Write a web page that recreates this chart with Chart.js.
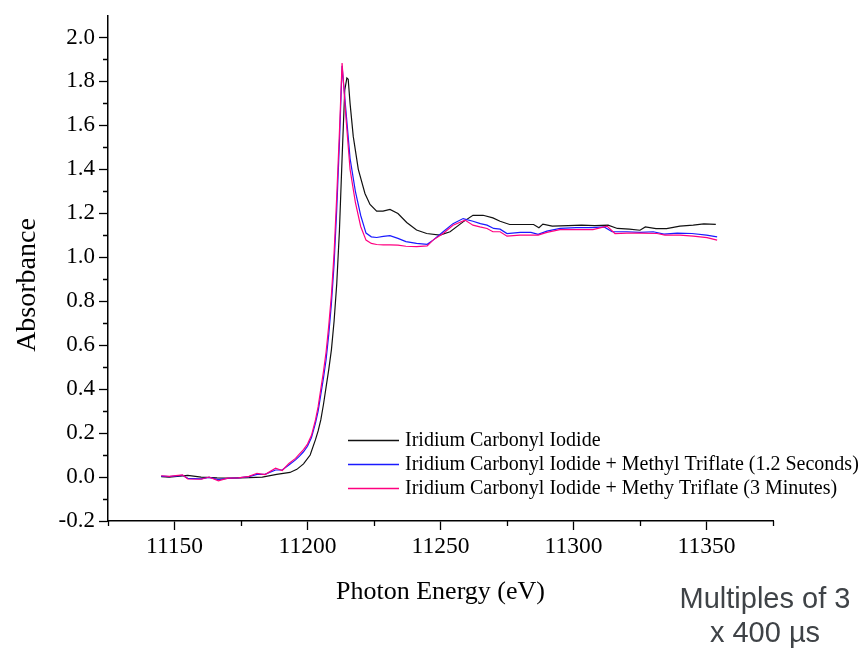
<!DOCTYPE html>
<html>
<head>
<meta charset="utf-8">
<script src="https://cdn.jsdelivr.net/npm/chart.js@4/dist/chart.umd.min.js"></script>
<style>
  html, body { margin: 0; padding: 0; background: #ffffff; }
  #wrap { width: 861px; height: 650px; position: relative; }
</style>
</head>
<body>
<div id="wrap"><canvas id="xas" width="861" height="650"></canvas></div>
<script>
// Ir L3-edge XANES spectra: photon energy (eV) vs absorbance

const seriesLabels = [
  'Iridium Carbonyl Iodide',
  'Iridium Carbonyl Iodide + Methyl Triflate (1.2 Seconds)',
  'Iridium Carbonyl Iodide + Methy Triflate (3 Minutes)'
];

// Iridium carbonyl iodide alone
const energyBase = [
  11145, 11148, 11152, 11155, 11160, 11166, 11171, 11178, 11183, 11188.4,
  11193.4, 11196, 11198.5, 11201, 11203, 11204, 11205, 11206, 11207, 11208,
  11209, 11210, 11211, 11212, 11213, 11214, 11214.8, 11215.3, 11216, 11217.2,
  11219.1, 11221.6, 11223.5, 11226, 11228.4, 11231, 11234, 11237.3, 11241, 11244.8,
  11249.8, 11253.6, 11258.5, 11262.2, 11266, 11269.7, 11272.4, 11276, 11281, 11285,
  11287, 11288.5, 11292, 11298, 11303, 11308, 11313, 11316.5, 11321, 11325,
  11327, 11331, 11335, 11340, 11345, 11349, 11353.5
];
const absBase = [
  0.002, 0.000, 0.004, 0.008, 0.000, -0.004, -0.005, -0.003, 0.000, 0.012,
  0.021, 0.035, 0.060, 0.100, 0.170, 0.210, 0.260, 0.330, 0.410, 0.490,
  0.580, 0.710, 0.880, 1.120, 1.450, 1.760, 1.816, 1.810, 1.700, 1.550,
  1.400, 1.290, 1.240, 1.210, 1.210, 1.218, 1.199, 1.158, 1.124, 1.108,
  1.101, 1.116, 1.161, 1.191, 1.191, 1.179, 1.164, 1.149, 1.149, 1.149,
  1.134, 1.151, 1.142, 1.144, 1.146, 1.144, 1.146, 1.131, 1.128, 1.123,
  1.138, 1.130, 1.130, 1.142, 1.146, 1.152, 1.150
];

// + methyl triflate, 1.2 s
const energyShort = [
  11145, 11148, 11153, 11155, 11160, 11163, 11166.5, 11170, 11174, 11178,
  11181, 11184, 11188, 11190.5, 11193, 11195.5, 11197, 11198.5, 11200, 11201.5,
  11203, 11204, 11205, 11206, 11207, 11208, 11209, 11210, 11211, 11212,
  11213, 11214.5, 11216, 11218, 11220, 11222, 11224, 11226, 11228.5, 11231,
  11234, 11237, 11241, 11245, 11247.2, 11251, 11254.7, 11258.5, 11262.2, 11265,
  11267.5, 11270, 11272.4, 11275, 11280, 11284, 11286.7, 11290, 11295, 11301,
  11307, 11311.5, 11314.5, 11320, 11325, 11330, 11334, 11339, 11344.5, 11350,
  11354
];
const absShort = [
  0.004, 0.002, 0.008, -0.006, -0.008, -0.002, -0.012, -0.006, -0.004, 0.002,
  0.012, 0.012, 0.032, 0.032, 0.055, 0.078, 0.095, 0.115, 0.140, 0.180,
  0.245, 0.300, 0.375, 0.450, 0.535, 0.650, 0.790, 0.970, 1.220, 1.520,
  1.870, 1.660, 1.450, 1.300, 1.190, 1.110, 1.093, 1.090, 1.095, 1.098,
  1.086, 1.071, 1.063, 1.059, 1.078, 1.116, 1.153, 1.176, 1.164, 1.153,
  1.146, 1.131, 1.128, 1.108, 1.113, 1.113, 1.104, 1.119, 1.131, 1.135,
  1.135, 1.138, 1.116, 1.116, 1.113, 1.116, 1.105, 1.110, 1.108, 1.101,
  1.093
];

// + methyl triflate, 3 min
const energyLong = [
  11145, 11148, 11153, 11155, 11160, 11163, 11166.5, 11170, 11174, 11178,
  11181, 11184, 11188, 11190.5, 11193, 11195.5, 11197, 11198.5, 11200, 11201.5,
  11203, 11204, 11205, 11206, 11207, 11208, 11209, 11210, 11211, 11212,
  11213, 11214.5, 11216, 11218, 11220, 11222, 11224, 11226, 11228.5, 11231,
  11234, 11237, 11241, 11245, 11247.2, 11251, 11254.7, 11259.2, 11262.2, 11264.8,
  11267.5, 11269.7, 11272.4, 11275, 11279.9, 11286.7, 11290, 11294.9, 11301.3, 11307.3,
  11312.6, 11315.6, 11320.1, 11325, 11331.4, 11334.4, 11340, 11345, 11350.2, 11354
];
const absLong = [
  0.006, 0.003, 0.010, -0.009, -0.010, 0.000, -0.017, -0.005, -0.004, 0.003,
  0.017, 0.011, 0.040, 0.030, 0.062, 0.085, 0.105, 0.125, 0.150, 0.190,
  0.260, 0.320, 0.400, 0.480, 0.570, 0.690, 0.830, 1.020, 1.280, 1.570,
  1.884, 1.628, 1.400, 1.250, 1.140, 1.078, 1.063, 1.058, 1.056, 1.056,
  1.055, 1.050, 1.048, 1.052, 1.078, 1.108, 1.146, 1.169, 1.146, 1.138,
  1.131, 1.116, 1.116, 1.096, 1.101, 1.101, 1.113, 1.126, 1.126, 1.126,
  1.142, 1.108, 1.110, 1.110, 1.108, 1.101, 1.101, 1.096, 1.089, 1.078
];

const seriesColors = ['#111111', '#1a1aff', '#ff0080'];

// axis ticks
const xMajorTicks = [11150, 11200, 11250, 11300, 11350];
const xMinorTicks = [11125, 11175, 11225, 11275, 11325, 11375];
const yMajorTicks = [-0.2, 0.0, 0.2, 0.4, 0.6, 0.8, 1.0, 1.2, 1.4, 1.6, 1.8, 2.0];
const yMinorTicks = [-0.1, 0.1, 0.3, 0.5, 0.7, 0.9, 1.1, 1.3, 1.5, 1.7, 1.9];

const toPoints = (xs, ys) => xs.map((x, i) => ({ x: x, y: ys[i] }));

const SERIF = '"Liberation Serif", "Times New Roman", serif';

// short minor tick marks on both axes
const minorTickPlugin = {
  id: 'minorTicks',
  afterDraw(chart) {
    const { ctx, chartArea, scales } = chart;
    ctx.save();
    ctx.strokeStyle = '#000';
    ctx.lineWidth = 1.3;
    ctx.beginPath();
    yMinorTicks.forEach(v => {
      const py = Math.round(scales.y.getPixelForValue(v)) + 0.5;
      ctx.moveTo(chartArea.left - 5, py);
      ctx.lineTo(chartArea.left, py);
    });
    xMinorTicks.forEach(v => {
      const px = Math.round(scales.x.getPixelForValue(v)) + 0.5;
      ctx.moveTo(px, chartArea.bottom);
      ctx.lineTo(px, chartArea.bottom + 5);
    });
    ctx.stroke();
    ctx.restore();
  }
};

// vertical axis title, a little below the axis midpoint
const yTitlePlugin = {
  id: 'yTitle',
  afterDraw(chart) {
    const { ctx } = chart;
    ctx.save();
    ctx.translate(28, 285);
    ctx.rotate(-Math.PI / 2);
    ctx.font = '28px ' + SERIF;
    ctx.fillStyle = '#000';
    ctx.textAlign = 'center';
    ctx.textBaseline = 'middle';
    ctx.fillText('Absorbance', 0, 0);
    ctx.restore();
  }
};

// legend inside the plot area, line sample + label
const insetLegendPlugin = {
  id: 'insetLegend',
  afterDraw(chart) {
    const { ctx } = chart;
    ctx.save();
    ctx.font = '20px ' + SERIF;
    ctx.textBaseline = 'middle';
    ctx.textAlign = 'left';
    chart.data.datasets.forEach((ds, i) => {
      const y = 440 + i * 24;
      ctx.strokeStyle = ds.borderColor;
      ctx.lineWidth = 1.3;
      ctx.beginPath();
      ctx.moveTo(348, y + 0.5);
      ctx.lineTo(399, y + 0.5);
      ctx.stroke();
      ctx.fillStyle = '#000';
      ctx.fillText(ds.label, 405, y + 1);
    });
    ctx.restore();
  }
};

// sampling note in the lower right corner
const notePlugin = {
  id: 'samplingNote',
  afterDraw(chart) {
    const { ctx } = chart;
    ctx.save();
    ctx.font = '29px "Liberation Sans", Arial, sans-serif';
    ctx.fillStyle = '#3f4347';
    ctx.textAlign = 'center';
    ctx.textBaseline = 'alphabetic';
    ctx.fillText('Multiples of 3', 765, 608);
    ctx.fillText('x 400 \u00b5s', 765, 642);
    ctx.restore();
  }
};

new Chart(document.getElementById('xas'), {
  type: 'scatter',
  data: {
    datasets: [
      { label: seriesLabels[0], data: toPoints(energyBase, absBase), borderColor: seriesColors[0], order: 3 },
      { label: seriesLabels[1], data: toPoints(energyShort, absShort), borderColor: seriesColors[1], order: 2 },
      { label: seriesLabels[2], data: toPoints(energyLong, absLong), borderColor: seriesColors[2], order: 1 }
    ].map(d => Object.assign(d, {
      showLine: true, pointRadius: 0, borderWidth: 1.2, tension: 0, fill: false
    }))
  },
  options: {
    responsive: false,
    devicePixelRatio: 1,
    animation: false,
    layout: { padding: { left: 0, top: 12, right: 88, bottom: 0 } },
    plugins: { legend: { display: false }, tooltip: { enabled: false } },
    scales: {
      x: {
        type: 'linear',
        min: 11125,
        max: 11375,
        afterBuildTicks: s => { s.ticks = xMajorTicks.map(v => ({ value: v })); },
        afterFit: s => { s.height = 129; },
        grid: { drawOnChartArea: false, drawTicks: true, tickLength: 9, tickColor: '#000', tickWidth: 1.3 },
        border: { display: true, color: '#000', width: 1.5 },
        ticks: {
          color: '#000', padding: 5, maxRotation: 0, autoSkip: false,
          font: { family: SERIF, size: 23.5, lineHeight: 1 },
          callback: v => String(v)
        },
        title: {
          display: true, text: 'Photon Energy (eV)', color: '#000',
          font: { family: SERIF, size: 26, lineHeight: 1 }, padding: { top: 0, bottom: 45 }
        }
      },
      y: {
        type: 'linear',
        min: -0.2,
        max: 2.1,
        afterBuildTicks: s => { s.ticks = yMajorTicks.map(v => ({ value: v })); },
        afterFit: s => { s.width = 108; },
        grid: { drawOnChartArea: false, drawTicks: true, tickLength: 9, tickColor: '#000', tickWidth: 1.3 },
        border: { display: true, color: '#000', width: 1.5 },
        ticks: {
          color: '#000', padding: 4, autoSkip: false,
          font: { family: SERIF, size: 23, lineHeight: 1 },
          callback: v => v.toFixed(1)
        },
        title: { display: false }
      }
    }
  },
  plugins: [minorTickPlugin, yTitlePlugin, insetLegendPlugin, notePlugin]
});
</script>
</body>
</html>
